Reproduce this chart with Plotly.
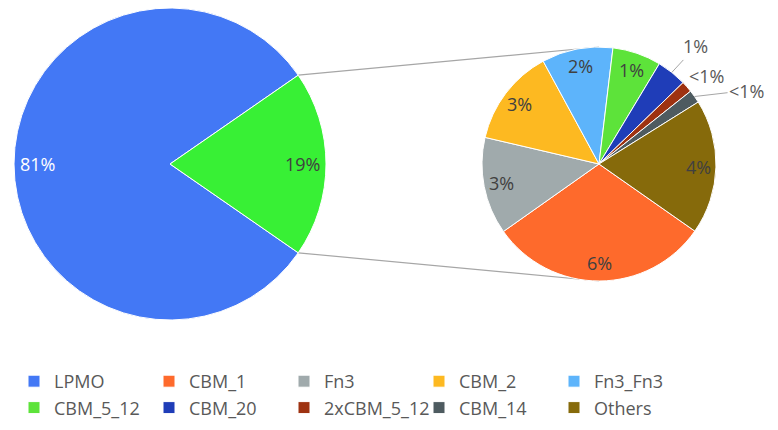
import math
import plotly.graph_objects as go

# ---------------- data ----------------
main_label = "LPMO"
main_value = 81.0
other_label = "Other domains"

sub_labels = ["CBM_1", "Fn3", "CBM_2", "Fn3_Fn3", "CBM_5_12",
              "CBM_20", "2xCBM_5_12", "CBM_14", "Others"]
sub_values = [5.9, 2.6, 2.6, 1.9, 1.3, 0.8, 0.3, 0.35, 3.6]

# ---------------- styles ----------------
main_color = "#4378F5"
other_color = "#38F035"
sub_colors = ["#FE6A2C", "#A0AAAC", "#FDB921", "#5DB4FB", "#5DE33A",
              "#1F3DB8", "#9E3211", "#4E5B60", "#866A0B"]

W, H = 778, 430
OFF = 8                               # page body margin around the figure
FONT = "Open Sans"
L_CX, L_CY, L_R = 170, 164, 156      # left pie centre / radius (page px)
R_CX, R_CY, R_R = 599, 164, 117      # right pie centre / radius (page px)
R_ROT = 125                          # start angle of the secondary pie
LABEL_K = 0.85                       # inside label radius fraction
# outside label placement for thin slices: (dx px, dy px, leader line)
outside = {"CBM_20": (24, -26, True),
           "2xCBM_5_12": (20, -11, False),
           "CBM_14": (52, -6, True)}

other_total = sum(sub_values)
grand = main_value + other_total


def pct_label(v):
    p = 100 * v / grand
    return "<1%" if p < 0.5 else f"{round(p)}%"


def px2paper(x, y):
    return (x - OFF) / W, 1 - (y - OFF) / H


def dom(cx, cy, r):
    x0, y1 = px2paper(cx - r, cy - r)
    x1, y0 = px2paper(cx + r, cy + r)
    return dict(x=[x0, x1], y=[y0, y1])


def polar(cx, cy, r, ang):
    a = math.radians(ang)
    return cx + r * math.sin(a), cy - r * math.cos(a)


other_span = 360 * other_total / grand
L_ROT = 90 + other_span / 2

fig = go.Figure()

fig.add_trace(go.Pie(
    labels=[main_label, other_label],
    values=[main_value, other_total],
    marker=dict(colors=[main_color, other_color], line=dict(color="white", width=1)),
    sort=False, direction="clockwise", rotation=L_ROT,
    textinfo="none", hoverinfo="label+percent", showlegend=False,
    domain=dom(L_CX, L_CY, L_R),
))

fig.add_trace(go.Pie(
    labels=[main_label] + sub_labels,
    values=[0] + sub_values,
    marker=dict(colors=[main_color] + sub_colors, line=dict(color="white", width=1)),
    sort=False, direction="clockwise", rotation=R_ROT,
    textinfo="none", hoverinfo="label+value", showlegend=True,
    domain=dom(R_CX, R_CY, R_R),
))

annotations = []
LBL = 18


def label(x, y, text, color, **kw):
    px, py = px2paper(x, y)
    d = dict(x=px, y=py, xref="paper", yref="paper", text=text,
             xanchor="center", yanchor="middle",
             font=dict(family=FONT, size=LBL, color=color))
    d.update(kw)
    annotations.append(d)


# left pie labels
left_vals = [main_value, other_total]
ang = L_ROT
for i, v in enumerate(left_vals):
    span = 360 * v / grand
    mid = ang + span / 2
    x, y = polar(L_CX, L_CY, LABEL_K * L_R, mid)
    label(x, y, pct_label(v), "white" if i == 0 else "#404040", showarrow=False)
    ang += span

# right pie labels
ang = R_ROT
for lab, v in zip(sub_labels, sub_values):
    span = 360 * v / other_total
    mid = ang + span / 2
    if lab in outside:
        dx, dy, leader = outside[lab]
        x, y = polar(R_CX, R_CY, R_R, mid)
        if leader:
            label(x, y, pct_label(v), "#595959", showarrow=True,
                  ax=dx, ay=dy, arrowhead=0, arrowwidth=1,
                  arrowcolor="#A6A6A6", standoff=0)
        else:
            label(x + dx, y + dy, pct_label(v), "#595959", showarrow=False)
    else:
        x, y = polar(R_CX, R_CY, LABEL_K * R_R, mid)
        label(x, y, pct_label(v), "#404040", showarrow=False)
    ang += span

# connector lines between the pies
shapes = []
for a, ry in [(90 - other_span / 2, R_CY - R_R), (90 + other_span / 2, R_CY + R_R)]:
    x0, y0 = polar(L_CX, L_CY, L_R, a)
    p0 = px2paper(x0, y0)
    p1 = px2paper(R_CX, ry)
    shapes.append(dict(type="line", xref="paper", yref="paper", layer="below",
                       x0=p0[0], y0=p0[1], x1=p1[0], y1=p1[1],
                       line=dict(color="#A6A6A6", width=1.2)))

# legend: first row centred near y=380 (page px)
leg_x, leg_y = px2paper(14, 363)

fig.update_layout(
    width=W, height=H,
    margin=dict(l=0, r=0, t=0, b=0),
    paper_bgcolor="white", plot_bgcolor="white",
    font=dict(family=FONT, size=17, color="#595959"),
    annotations=annotations, shapes=shapes,
    legend=dict(orientation="h", x=leg_x, y=leg_y, xanchor="left", yanchor="top",
                entrywidth=90, entrywidthmode="pixels", traceorder="normal",
                font=dict(family=FONT, size=18, color="#595959"),
                bgcolor="rgba(0,0,0,0)"),
)

fig.write_html("out.html")
